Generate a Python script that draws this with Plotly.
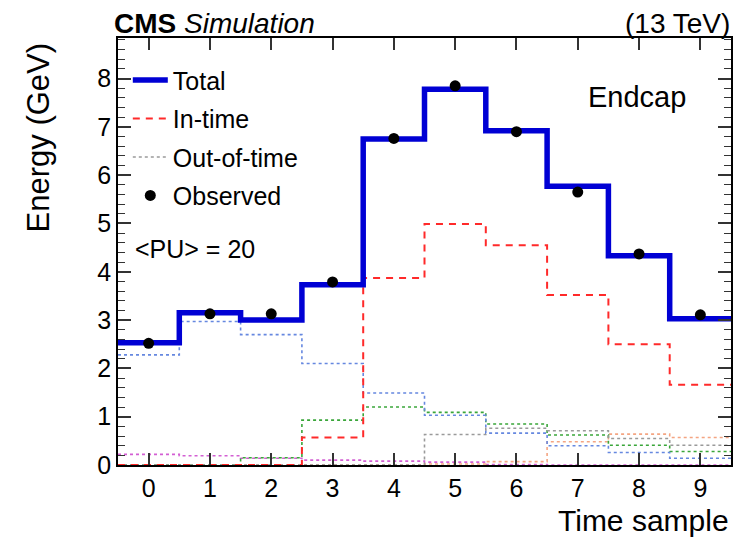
import numpy as np
import plotly.graph_objects as go

# ---- data ----
time_samples = [0, 1, 2, 3, 4, 5, 6, 7, 8, 9]
total = [2.53, 3.15, 3.00, 3.73, 6.75, 7.78, 6.92, 5.77, 4.33, 3.03]
observed = [2.52, 3.13, 3.13, 3.79, 6.76, 7.85, 6.90, 5.65, 4.37, 3.11]
in_time = [0.0, 0.0, 0.0, 0.57, 3.87, 4.99, 4.55, 3.52, 2.50, 1.66]
oot_blue = [2.28, 2.97, 2.70, 2.10, 1.49, 1.03, 0.66, 0.40, 0.26, 0.14]
oot_green = [0.0, 0.0, 0.15, 0.93, 1.20, 1.09, 0.85, 0.62, 0.41, 0.28]
oot_grey = [0.0, 0.0, 0.0, 0.0, 0.0, 0.63, 0.76, 0.71, 0.55, 0.41]
oot_orange = [0.0, 0.0, 0.0, 0.0, 0.0, 0.02, 0.07, 0.48, 0.64, 0.57]
oot_magenta = [0.22, 0.19, 0.14, 0.10, 0.08, 0.06, 0.01, 0.0, 0.0, 0.0]
x_ticks = [0, 1, 2, 3, 4, 5, 6, 7, 8, 9]
y_ticks = [0, 1, 2, 3, 4, 5, 6, 7, 8]

FONT = "Liberation Sans, Arial, sans-serif"


def step_xy(vals):
    c = np.asarray(time_samples, dtype=float)
    x = np.append(c - 0.5, c[-1] + 0.5)
    y = np.append(np.asarray(vals, dtype=float), vals[-1])
    return x, y


fig = go.Figure()

components = [
    (oot_magenta, "#d35fd3", False, None),
    (oot_orange, "#f4a582", False, None),
    (oot_green, "#3aa63a", False, None),
    (oot_blue, "#6688e0", False, None),
    (oot_grey, "#9a9a9a", True, "Out-of-time"),
]
for vals, col, show, name in components:
    x, y = step_xy(vals)
    fig.add_trace(go.Scatter(
        x=x, y=y, mode="lines", line_shape="hv",
        line=dict(color=col, width=1.6, dash="dot"),
        name=name if name else "", showlegend=show,
        legendrank=3, legendgroup="g3", hoverinfo="skip"))

x, y = step_xy(in_time)
fig.add_trace(go.Scatter(
    x=x, y=y, mode="lines", line_shape="hv",
    line=dict(color="#ff2a2a", width=2, dash="7px,6px"),
    name="In-time", legendrank=2, legendgroup="g2"))

x, y = step_xy(total)
fig.add_trace(go.Scatter(
    x=x, y=y, mode="lines", line_shape="hv",
    line=dict(color="#0000d4", width=5.5),
    name="Total", legendrank=1, legendgroup="g1"))

fig.add_trace(go.Scatter(
    x=time_samples, y=observed, mode="markers",
    marker=dict(color="black", size=11, symbol="circle"),
    name="Observed", legendrank=4, legendgroup="g4"))

# the page body adds an 8px offset, so the figure is sized to fit the window
fig.update_layout(
    width=736, height=530,
    margin=dict(l=110, r=13, t=30, b=73),
    paper_bgcolor="white", plot_bgcolor="white",
    font=dict(family=FONT, color="black", size=24),
    showlegend=True,
    legend=dict(
        x=0.016, y=0.955, xanchor="left", yanchor="top",
        font=dict(family=FONT, size=25, color="black"),
        bgcolor="rgba(0,0,0,0)", traceorder="grouped", tracegroupgap=3,
        itemwidth=35,
    ),
    xaxis=dict(
        range=[-0.5, 9.5], tickvals=x_ticks, ticktext=[str(v) for v in x_ticks],
        ticks="inside", ticklen=12, tickwidth=1.5, tickcolor="#333",
        showline=True, linecolor="black", linewidth=1.5, mirror="allticks",
        showgrid=False, zeroline=False,
        tickfont=dict(family=FONT, size=25),
    ),
    yaxis=dict(
        range=[0, 8.84], tickvals=y_ticks, ticktext=[str(v) for v in y_ticks],
        ticks="inside", ticklen=13, tickwidth=1.5, tickcolor="#333",
        minor=dict(dtick=0.2, ticks="inside", ticklen=7, tickwidth=1.2, tickcolor="#333"),
        showline=True, linecolor="black", linewidth=1.5, mirror="allticks",
        showgrid=False, zeroline=False,
        tickfont=dict(family=FONT, size=25),
    ),
)

fig.add_annotation(
    text="<b>CMS</b> <i>Simulation</i>", xref="paper", yref="paper",
    x=-0.008, y=1.034, xanchor="left", yanchor="middle", showarrow=False,
    borderpad=0, font=dict(family=FONT, size=28, color="black"))
fig.add_annotation(
    text="(13 TeV)", xref="paper", yref="paper",
    x=1.0, y=1.034, xanchor="right", yanchor="middle", showarrow=False,
    borderpad=0, font=dict(family=FONT, size=28, color="black"))
fig.add_annotation(
    text="Endcap", xref="paper", yref="paper",
    x=0.847, y=0.862, xanchor="center", yanchor="middle", showarrow=False,
    font=dict(family=FONT, size=29, color="black"))
fig.add_annotation(
    text="&lt;PU&gt; = 20", xref="paper", yref="paper",
    x=0.024, y=0.506, xanchor="left", yanchor="middle", showarrow=False,
    font=dict(family=FONT, size=25, color="black"))
fig.add_annotation(
    text="Time sample", xref="paper", yref="paper",
    x=1.0, y=-0.131, xanchor="right", yanchor="middle", showarrow=False,
    font=dict(family=FONT, size=30, color="black"))
fig.add_annotation(
    text="Energy (GeV)", xref="paper", yref="paper", textangle=-90,
    x=-0.13, y=0.995, xanchor="center", yanchor="top", showarrow=False,
    font=dict(family=FONT, size=31, color="black"))

fig.write_html("out.html")
